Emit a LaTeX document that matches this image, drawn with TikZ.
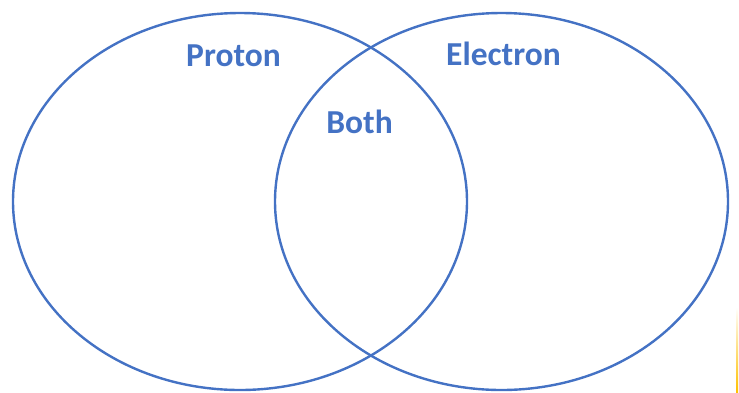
\documentclass[tikz,border=0pt]{standalone}
\usepackage{fontspec}
\setmainfont{Carlito}
\definecolor{vblue}{HTML}{4472C4}
\definecolor{vgold}{HTML}{FFC000}
\begin{document}
\begin{tikzpicture}[x=1pt,y=-1pt,
  setcircle/.style={draw=vblue,line width=2.4pt},
  setlabel/.style={text=vblue,font=\fontsize{33.5}{40}\selectfont\bfseries,anchor=base,inner sep=0pt}]
\useasboundingbox (0,0) rectangle (739,392);
\draw[setcircle] (240,201.5) ellipse [x radius=227, y radius=188.5];
\draw[setcircle] (501.5,201.5) ellipse [x radius=226.5, y radius=188.5];
\node[setlabel] (proton) at (233.5,66) {Proton};
\node[setlabel] (electron) at (503.5,65) {Electron};
\node[setlabel] (both) at (359.5,133) {Both};
\shade[top color=white,bottom color=vgold] (736,307) rectangle (738,392);
\end{tikzpicture}
\end{document}
